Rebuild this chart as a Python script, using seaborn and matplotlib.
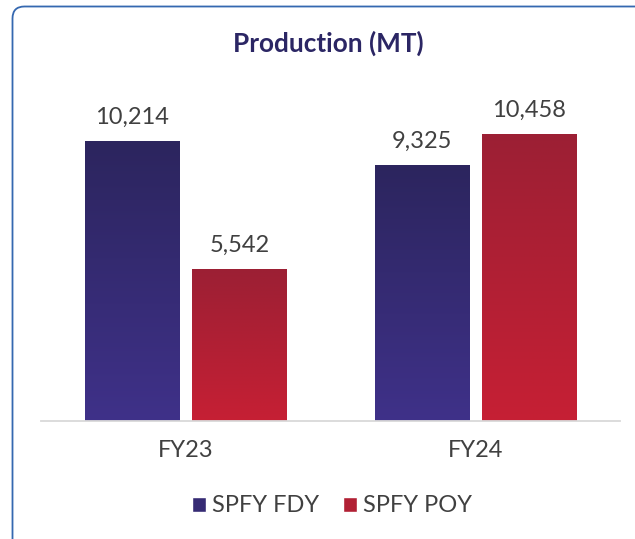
import numpy as np
import pandas as pd
import seaborn as sns
import matplotlib
matplotlib.use("Agg")
import matplotlib.pyplot as plt
from matplotlib.colors import LinearSegmentedColormap
from matplotlib.patches import FancyBboxPatch
from matplotlib.transforms import IdentityTransform

# data
years = ["FY23", "FY24"]
series = ["SPFY FDY", "SPFY POY"]
fdy = [10214, 9325]
poy = [5542, 10458]

df = pd.DataFrame({
    "year": years * 2,
    "product": [series[0]] * 2 + [series[1]] * 2,
    "mt": fdy + poy,
})

# top / bottom colours of the bar gradients
grad = {
    series[0]: ("#2c255e", "#3f3189"),
    series[1]: ("#9c1f34", "#c62034"),
}
mid = [sns.blend_palette(grad[s], 3)[1] for s in series]

sns.set_style("white")
plt.rcParams["font.family"] = ["Lato", "DejaVu Sans"]
txt = "#404040"

fig = plt.figure(figsize=(6.35, 5.39), dpi=100)
ax = fig.add_axes([41 / 635, 118 / 539, 579 / 635, 361 / 539])

sns.barplot(data=df, x="year", y="mt", hue="product", order=years,
            hue_order=series, palette=mid, width=0.74, gap=0.12,
            saturation=1, ax=ax)

for cont in ax.containers:
    ax.bar_label(cont, labels=[f"{v:,.0f}" for v in cont.datavalues],
                 padding=10, fontsize=17, color=txt)

# swap flat fills for vertical gradients
for cont, s in zip(ax.containers, series):
    cmap = LinearSegmentedColormap.from_list(s, [grad[s][1], grad[s][0]])
    for bar in cont:
        x0, w, h = bar.get_x(), bar.get_width(), bar.get_height()
        ax.imshow(np.linspace(0, 1, 256).reshape(-1, 1), cmap=cmap,
                  origin="lower", aspect="auto",
                  extent=[x0, x0 + w, 0, h], zorder=2)
        bar.set_facecolor("none")

ax.set_xlim(-0.5, 1.5)
ax.set_ylim(0, 13200)
ax.set_xlabel("")
ax.set_ylabel("")
ax.set_yticks([])
ax.tick_params(axis="x", length=0, pad=14, labelsize=17, labelcolor=txt)
for side in ["left", "right", "top"]:
    ax.spines[side].set_visible(False)
ax.spines["bottom"].set_color("#d9d9d9")
ax.spines["bottom"].set_linewidth(1.3)

sns.move_legend(ax, "center", bbox_to_anchor=(0.503, -0.235), ncol=2,
                frameon=False, title=None, fontsize=17,
                handlelength=0.6, handleheight=0.6, handletextpad=0.25,
                columnspacing=1.0, labelcolor=txt)

fig.text(328 / 635, 1 - 51.7 / 539, "Production (MT)", ha="center",
         va="baseline", fontsize=18.8, fontweight="bold", color="#2b2664")

# rounded card border, cut off at the right and bottom
fig.add_artist(FancyBboxPatch((12.5, -60), 800, 539 - 6.5 + 60,
                              boxstyle="round,pad=0,rounding_size=12",
                              transform=IdentityTransform(), facecolor="none",
                              edgecolor="#3568b0", linewidth=1.3))

fig.savefig("out.png", dpi=100)
